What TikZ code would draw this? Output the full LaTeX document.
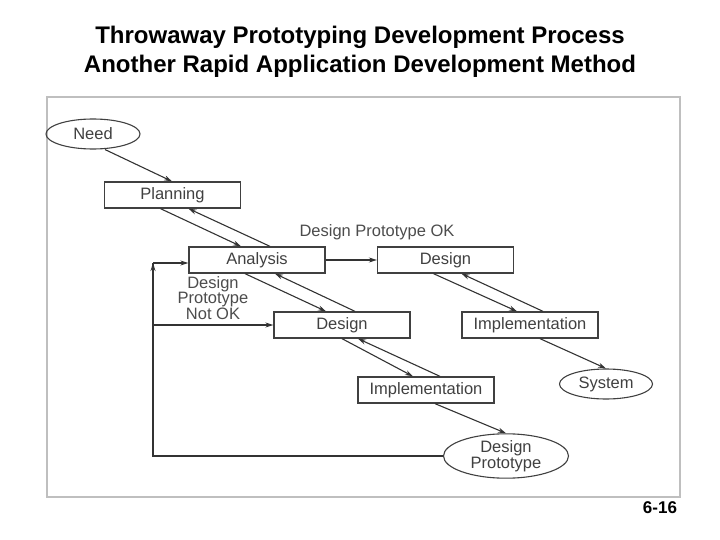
\documentclass[tikz,border=0pt]{standalone}
\usepackage{fontspec}
\setmainfont{Liberation Sans}
\usetikzlibrary{shapes.geometric,arrows.meta}
\begin{document}
\begin{tikzpicture}[x=1pt,y=-1pt,
  box/.style={draw=black!75,line width=1.3pt,minimum width=136pt,minimum height=26pt,inner sep=0pt,font=\fontsize{16.5}{18}\selectfont,text=black!75},
  oval/.style={ellipse,draw=black!75,line width=1.1pt,inner sep=0pt,font=\fontsize{16.5}{18}\selectfont,text=black!75,align=center},
  lbl/.style={font=\fontsize{16.5}{15.5}\selectfont,text=black!70,align=center},
  arr/.style={draw=black!80,line width=1.1pt,-{Stealth[length=8pt,width=5pt]}},
  ln/.style={draw=black!80,line width=1.1pt}]
\useasboundingbox (0,0) rectangle (720,540);
\node[font=\bfseries\fontsize{24}{29}\selectfont,align=center] (title) at (360,52) {Throwaway Prototyping Development Process\\Another Rapid Application Development Method};
\node[draw=black!25,line width=2.5pt,minimum width=633pt,minimum height=400pt,inner sep=0pt] (frame) at (363.5,297) {};
\node[font=\bfseries\fontsize{17}{18}\selectfont] (num) at (660,508) {6-16};
\node[oval,minimum width=94pt,minimum height=30pt] (need) at (93,134) {Need};
\node[box] (plan) at (172.5,195) {Planning};
\node[box] (ana) at (257,260) {Analysis};
\node[box] (des1) at (445.5,260) {Design};
\node[box] (des2) at (342,325) {Design};
\node[box] (imp1) at (530,325) {Implementation};
\node[box] (imp2) at (426,390) {Implementation};
\node[oval,minimum width=93pt,minimum height=30pt] (sys) at (606,384) {System};
\node[oval,minimum width=125pt,minimum height=41pt,font=\fontsize{16.5}{16}\selectfont] (dp) at (506,456) {Design\\Prototype};
\node[lbl] (ok) at (377,232) {Design Prototype OK};
\node[lbl] (nok) at (213,298) {Design\\Prototype\\Not OK};
\coordinate (c1) at (153,456);
\coordinate (c2) at (153,263);
\coordinate (c3) at (153,325);
\draw[arr] ([xshift=12pt]need.south) -- ([xshift=-0.5pt]plan.north);
\draw[arr] ([xshift=-12pt]plan.south) -- ([xshift=-16pt]ana.north);
\draw[arr] ([xshift=13pt]ana.north) -- ([xshift=16pt]plan.south);
\draw[arr] ([xshift=-12pt]ana.south) -- ([xshift=-16pt]des2.north);
\draw[arr] ([xshift=13pt]des2.north) -- ([xshift=18pt]ana.south);
\draw[arr] ([xshift=0pt]des2.south) -- ([xshift=-13pt]imp2.north);
\draw[arr] ([xshift=14pt]imp2.north) -- ([xshift=16pt]des2.south);
\draw[arr] ([xshift=9pt]imp2.south) -- (dp.north);
\draw[arr] ([xshift=-12pt]des1.south) -- ([xshift=-13pt]imp1.north);
\draw[arr] ([xshift=13pt]imp1.north) -- ([xshift=16pt]des1.south);
\draw[arr] ([xshift=10pt]imp1.south) -- (sys.north);
\draw[arr] (ana.east) -- (des1.west);
\draw[ln] (dp.west) -- (c1) -- (c2);
\draw[arr] (c1) -- (c2);
\draw[arr] (c2) -- (c2 -| ana.west);
\draw[arr] (c3) -- (des2.west);
\end{tikzpicture}
\end{document}
